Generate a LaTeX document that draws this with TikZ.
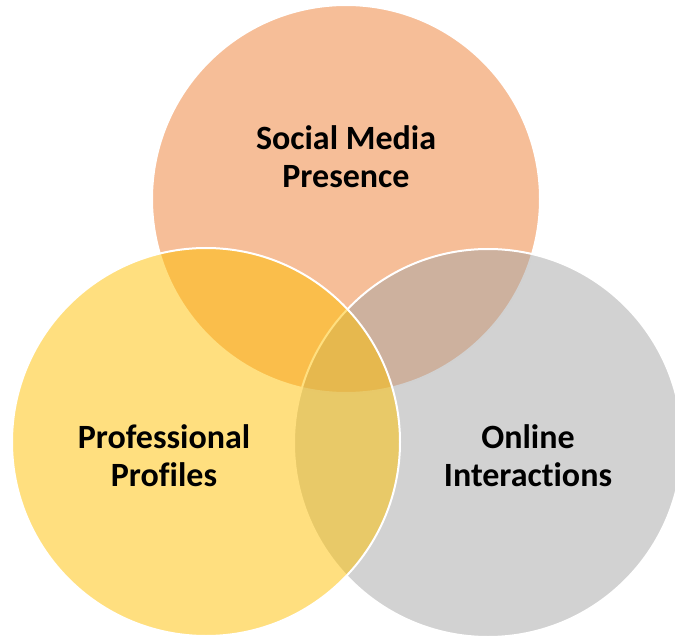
\documentclass[tikz,border=0pt]{standalone}
\usepackage{fontspec}
\setmainfont{Carlito}[Ligatures={NoCommon,NoRare}]
\definecolor{vennorange}{HTML}{ED7D31}
\definecolor{vennyellow}{HTML}{FFC000}
\definecolor{venngray}{HTML}{A5A5A5}
\tikzset{
  venn/.style={circle, draw=white, line width=1.5pt, fill opacity=0.5, minimum size=291pt, inner sep=0pt},
  vennlabel/.style={align=center, font=\fontsize{25.5}{28.5}\selectfont\bfseries, text=black}
}
\begin{document}
\begin{tikzpicture}[x=0.75pt, y=-0.75pt]

  \useasboundingbox (0,0) rectangle (675,638);
  \clip (0,0) rectangle (675,638);

  % Circles
  \node[venn, fill=vennorange] (social) at (346,199) {};
  \node[venn, fill=venngray] (online) at (488,443) {};
  \node[venn, fill=vennyellow] (professional) at (206,442) {};

  % Labels
  \node[vennlabel] (sociallabel) at (346,157) {Social Media\\Presence};
  \node[vennlabel] (professionallabel) at (164,456) {Professional\\Profiles};
  \node[vennlabel] (onlinelabel) at (528,456) {Online\\Interactions};

\end{tikzpicture}
\end{document}
